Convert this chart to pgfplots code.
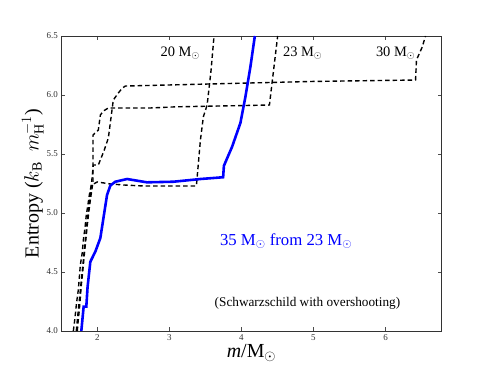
\documentclass[border=0pt]{standalone}
\usepackage{pgfplots}
\pgfplotsset{compat=1.18}
\usepackage{fontspec}
\setmainfont{Liberation Serif}
\usetikzlibrary{calc}

\newcommand{\msun}{M$_{\odot}$}

\pgfplotstableread{
x y
1.667 4.000
1.680 4.060
1.694 4.136
1.712 4.240
1.736 4.347
1.750 4.450
1.764 4.559
1.790 4.660
1.806 4.771
1.830 4.880
1.847 4.983
1.870 5.070
1.889 5.153
1.917 5.237
2.000 5.263
2.181 5.246
2.400 5.236
2.639 5.229
3.000 5.229
3.375 5.229
3.431 5.619
3.472 5.816
3.524 5.915
3.556 6.085
3.579 6.212
3.615 6.466
3.620 6.500
}\twenty

\pgfplotstableread{
x y
1.722 4.000
1.735 4.090
1.750 4.178
1.765 4.290
1.778 4.390
1.800 4.520
1.819 4.644
1.840 4.770
1.861 4.898
1.880 5.000
1.903 5.110
1.940 5.263
1.940 5.661
2.014 5.703
2.042 5.830
2.083 5.864
2.153 5.890
2.736 5.890
3.100 5.900
3.800 5.908
4.389 5.915
4.430 6.127
4.500 6.483
4.502 6.500
}\twentythree

\pgfplotstableread{
x y
1.708 4.000
1.722 4.090
1.736 4.178
1.757 4.300
1.778 4.432
1.800 4.560
1.819 4.686
1.840 4.810
1.861 4.940
1.880 5.050
1.903 5.153
1.931 5.322
1.944 5.407
2.014 5.407
2.097 5.534
2.153 5.636
2.222 5.958
2.292 6.017
2.347 6.059
2.389 6.076
3.000 6.085
4.000 6.100
5.000 6.115
6.417 6.127
6.430 6.297
6.510 6.407
6.555 6.500
}\thirty

\pgfplotstableread{
x y
1.778 4.000
1.810 4.206
1.847 4.206
1.865 4.375
1.903 4.587
1.972 4.672
2.042 4.788
2.088 4.969
2.135 5.153
2.181 5.233
2.250 5.265
2.413 5.288
2.690 5.260
3.056 5.265
3.430 5.288
3.746 5.303
3.757 5.400
3.871 5.562
3.986 5.763
4.056 5.986
4.125 6.240
4.185 6.494
4.186 6.500
}\blue

\begin{document}
\begin{tikzpicture}
\begin{axis}[
  name=ax,
  scale only axis,
  width=380.4bp, height=295bp,
  xmin=1.5, xmax=6.78, ymin=4.0, ymax=6.5,
  xtick={2,3,4,5,6},
  ytick={4.0,4.5,5.0,5.5,6.0,6.5},
  yticklabel style={/pgf/number format/.cd,fixed,fixed zerofill,precision=1},
  /pgf/number format/assume math mode=true,
  tick label style={font=\fontsize{9}{10}\selectfont, text=black!80},
  tick align=inside,
  major tick length=4bp,
  tick style={black!70, line width=0.5pt},
  axis line style={black!80, line width=0.8pt},
  xlabel={\textit{m}/\msun},
  ylabel={Entropy ($k_{\mathrm{B}}$\ \ $m_{\mathrm{H}}^{-1}$)},
  label style={font=\fontsize{20}{22}\selectfont},
  xlabel style={yshift=3bp},
  ylabel style={yshift=-4bp},
  clip=true,
]
\addplot[black, line width=1.4pt, dash pattern=on 4.5bp off 3bp] table {\twenty};
\addplot[black, line width=1.4pt, dash pattern=on 4.5bp off 3bp] table {\twentythree};
\addplot[black, line width=1.4pt, dash pattern=on 4.5bp off 3bp] table {\thirty};
\addplot[blue, line width=2.6pt] table {\blue};

\node[font=\fontsize{14.5}{16}\selectfont] at (axis cs:3.15,6.356) {20 \msun};
\node[font=\fontsize{14.5}{16}\selectfont] at (axis cs:4.85,6.356) {23 \msun};
\node[font=\fontsize{14.5}{16}\selectfont] at (axis cs:6.14,6.356) {30 \msun};
\node[blue, font=\fontsize{16.8}{19}\selectfont] at (axis cs:4.62,4.763) {35 \msun{} from 23 \msun};
\node[font=\fontsize{13.3}{15}\selectfont] at (axis cs:4.917,4.237) {(Schwarzschild with overshooting)};
\end{axis}
\path ($(ax.south west)+(-61.3bp,-37bp)$) rectangle ($(ax.north east)+(49.3bp,36bp)$);
\end{tikzpicture}
\end{document}
